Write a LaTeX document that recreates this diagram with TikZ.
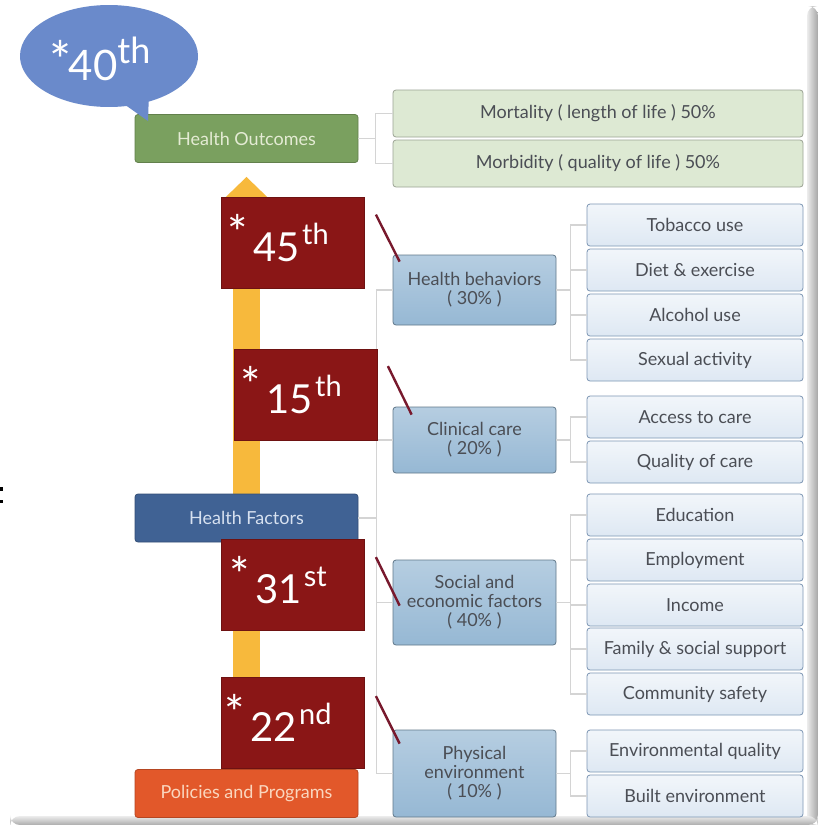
\documentclass[tikz,border=0pt]{standalone}
\usepackage{fontspec}
\setmainfont{Lato}
\usetikzlibrary{shapes.callouts,arrows.meta,calc}

\definecolor{bubbleblue}{RGB}{106,138,203}
\definecolor{outgreen}{RGB}{122,160,95}
\definecolor{palegreen}{RGB}{221,233,211}
\definecolor{rankred}{RGB}{138,22,22}
\definecolor{factblue}{RGB}{64,98,148}
\definecolor{polorange}{RGB}{226,88,42}
\definecolor{midblue}{RGB}{150,184,212}
\definecolor{paleblue}{RGB}{222,232,243}
\definecolor{itemedge}{RGB}{125,150,180}
\definecolor{arroworange}{RGB}{247,185,60}
\definecolor{boxtext}{RGB}{75,78,85}
\definecolor{treegray}{RGB}{212,212,212}
\definecolor{tickred}{RGB}{120,25,45}

\newcommand{\rankmark}[2]{\raisebox{5.5pt}{\fontsize{24}{24}\selectfont *}\hspace{3pt}#1\hspace{1pt}\raisebox{8.5pt}{\fontsize{14.5}{14.5}\selectfont #2}\hspace{15pt}\null}

\begin{document}
\begin{tikzpicture}[x=0.5pt, y=-0.5pt,
	every node/.style={font=\fontsize{9}{9.5}\selectfont, inner sep=0pt},
	stembox/.style={fill=#1, draw=#1!80!black, rounded corners=1.5pt, minimum width=111.5pt, minimum height=24pt},
	resultbox/.style={fill=palegreen, draw=palegreen!70!black, text=boxtext, rounded corners=1.5pt, minimum width=205pt, minimum height=23.5pt},
	rankbox/.style={fill=rankred, draw=rankred!80!black, text=white, minimum width=71.5pt, minimum height=45.5pt, text depth=5pt, font=\fontsize{20}{20}\selectfont},
	factorbox/.style={top color=midblue!70!white, bottom color=midblue, draw=midblue!65!black, text=boxtext, align=center, rounded corners=1.5pt, minimum width=81.5pt},
	itembox/.style={top color=paleblue!40!white, bottom color=paleblue, draw=itemedge, text=boxtext, rounded corners=1.5pt, minimum width=108pt, minimum height=21pt},
	treeline/.style={treegray, line width=0.6pt},
	ranktick/.style={tickred, line width=1.2pt},
	risearrow/.style={arroworange, line width=13.5pt, -{Triangle[width=23pt,length=11.5pt]}, shorten >=7pt}
]
	\fill[white] (0,0) rectangle (818,825);
	\useasboundingbox (0,0) rectangle (818,825);

	% page edge
	\shade[left color=gray!15, right color=gray!70, rounded corners=5pt] (807,6) rectangle (818,825);
	\shade[top color=gray!15, bottom color=gray!65, rounded corners=5pt] (10,816) rectangle (818,825);
	\fill[black] (0,487) rectangle (2.5,490.5);
	\fill[black] (0,499.5) rectangle (2.5,503);

	% stem
	\node[stembox=outgreen, text={rgb,255:red,228;green,235;blue,212}] (ho) at (246.5,138.5) {Health Outcomes};
	\node[stembox=polorange, text={rgb,255:red,250;green,214;blue,190}] (pp) at (246.5,793.5) {Policies and Programs};
	\draw[risearrow] (pp.north) -- (ho.south);
	\node[stembox=factblue, text={rgb,255:red,215;green,225;blue,240}] (hf) at (246.5,518) {Health Factors};

	% outcomes
	\node[resultbox] (mort) at (598,113.5) {Mortality ( length of life ) 50\%};
	\node[resultbox] (morb) at (598,163.5) {Morbidity ( quality of life ) 50\%};

	% factors
	\node[factorbox, minimum height=35pt] (hb) at (474.5,290) {Health behaviors\\( 30\% )};
	\node[factorbox, minimum height=33pt] (cc) at (474.5,440) {Clinical care\\( 20\% )};
	\node[factorbox, minimum height=42.5pt] (se) at (474.5,602.5) {Social and\\economic factors\\( 40\% )};
	\node[factorbox, minimum height=43.5pt] (pe) at (474.5,773.5) {Physical\\environment\\( 10\% )};

	\foreach \name/\y/\txt in {tob/225/Tobacco use, diet/270/Diet \& exercise, alc/315/Alcohol use, sex/360/Sexual activity,
		acc/417/Access to care, qoc/462/Quality of care,
		edu/515/Education, emp/560/Employment, inc/605/Income, fam/649/Family \& social support, saf/694/Community safety,
		env/751/Environmental quality, blt/796/Built environment}
		\node[itembox] (\name) at (695,\y) {\txt};

	% tree lines
	\foreach \k in {mort,morb} \draw[treeline] (ho.east) -- ++(17,0) |- (\k.west);
	\foreach \k in {hb,cc,se,pe} \draw[treeline] (hf.east) -- ++(18,0) |- (\k.west);
	\foreach \k in {tob,diet,alc,sex} \draw[treeline] (hb.east) -- ++(14,0) |- (\k.west);
	\foreach \k in {acc,qoc} \draw[treeline] (cc.east) -- ++(14,0) |- (\k.west);
	\foreach \k in {edu,emp,inc,fam,saf} \draw[treeline] (se.east) -- ++(14,0) |- (\k.west);
	\foreach \k in {env,blt} \draw[treeline] (pe.east) -- ++(14,0) |- (\k.west);

	% state ranks
	\node[rankbox] (r45) at (293,242.5) {\rankmark{45}{th}};
	\node[rankbox] (r15) at (306,395) {\rankmark{15}{th}};
	\node[rankbox] (r31) at (293,585) {\rankmark{31}{st}};
	\node[rankbox] (r22) at (293,723) {\rankmark{22}{nd}};

	\draw[ranktick] ($(r45.north east)+(11,18)$) -- ($(hb.north west)+(7,7)$);
	\draw[ranktick] ($(r15.north east)+(10,17)$) -- ($(cc.north west)+(19,8)$);
	\draw[ranktick] ($(r31.north east)+(11,18)$) -- ($(se.north west)+(7,46)$);
	\draw[ranktick] ($(r22.north east)+(11,19)$) -- ($(pe.north west)+(7,14)$);

	% bubble
	\node[ellipse callout, fill=bubbleblue, minimum width=89pt, minimum height=51pt, callout absolute pointer={(148,121)}] (b40) at (109,56) {};
	\node[anchor=base, text=white, font=\fontsize{21}{21}\selectfont] (b40txt) at (100,80) {\raisebox{0.5pt}{\fontsize{26}{26}\selectfont *}\kern-1.5pt 40\raisebox{8.5pt}{\fontsize{18}{18}\selectfont th}};
\end{tikzpicture}
\end{document}
